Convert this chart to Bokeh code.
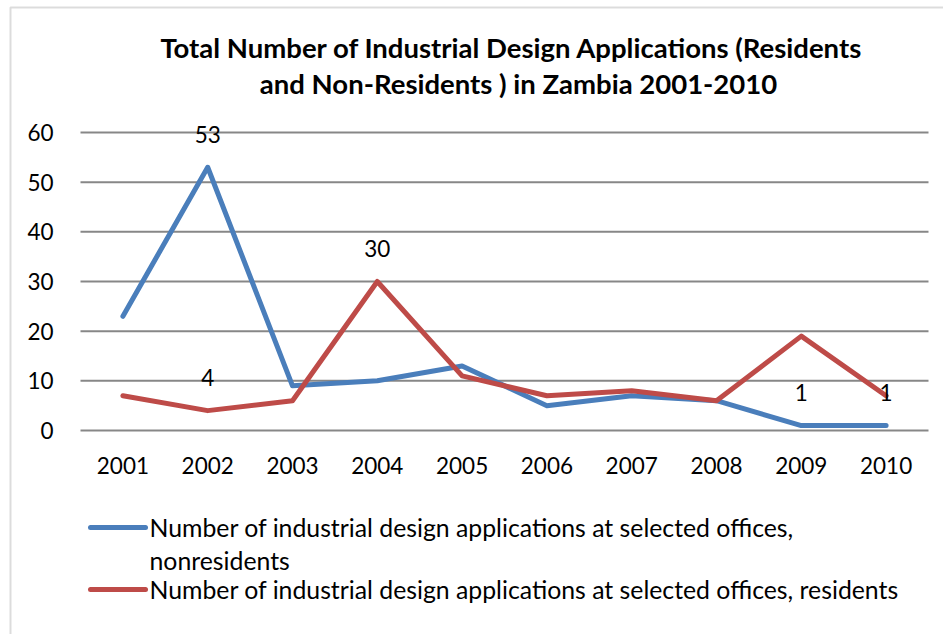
from bokeh.plotting import figure
from bokeh.models import (Range1d, Label, LabelSet, ColumnDataSource,
                          BoxAnnotation, FixedTicker, LinearAxis)
from bokeh.core.properties import value
from bokeh.embed import file_html
from bokeh.resources import INLINE

years = [2001, 2002, 2003, 2004, 2005, 2006, 2007, 2008, 2009, 2010]
nonresidents = [23, 53, 9, 10, 13, 5, 7, 6, 1, 1]
residents = [7, 4, 6, 30, 11, 7, 8, 6, 19, 7]

label_years = [2002, 2002, 2004, 2009, 2010]
label_values = [53, 4, 30, 1, 1]
label_texts = ["53", "4", "30", "1", "1"]

title_lines = ["Total  Number of Industrial Design Applications  (Residents",
               "and Non-Residents ) in Zambia 2001-2010"]
legend_lines = [["Number of industrial design applications at selected offices,", "nonresidents"],
                ["Number of industrial design applications at selected offices, residents"]]
y_ticks = [0, 10, 20, 30, 40, 50, 60]

FONT = "Lato"
BLUE = "#4A7EBB"
RED = "#BE4B48"
GRID = "#878787"

W, H = 943, 634
# plot area in canvas pixels
FL, FR, FT, FB = 80, 928, 132, 430
nx = len(years)
xpp = (FR - FL) / nx
ypp = (FB - FT) / (y_ticks[-1] - y_ticks[0])
x0 = years[0] - 0.5 - FL / xpp
x1 = years[0] - 0.5 + (W - FL) / xpp
y0 = y_ticks[0] - (H - FB) / ypp
y1 = y_ticks[-1] + FT / ypp

p = figure(width=W, height=H, x_range=Range1d(x0, x1), y_range=Range1d(y0, y1),
           output_backend="svg", toolbar_location=None,
           x_axis_location=None, y_axis_location=None,
           min_border=0)
p.extra_x_ranges = {"px": Range1d(0, W)}
p.extra_y_ranges = {"px": Range1d(H, 0)}
p.outline_line_color = None
p.background_fill_color = "white"
p.border_fill_color = "white"
p.xgrid.visible = False
p.ygrid.visible = False

# horizontal gridlines across the plot area
p.segment(x0=[years[0] - 0.5] * len(y_ticks), x1=[years[-1] + 0.5] * len(y_ticks),
          y0=y_ticks, y1=y_ticks, line_color=GRID, line_width=2)

yax = LinearAxis(ticker=FixedTicker(ticks=y_ticks), fixed_location=years[0] - 0.5)
xax = LinearAxis(ticker=FixedTicker(ticks=years), fixed_location=y_ticks[0])
for ax in (xax, yax):
    ax.axis_line_color = None
    ax.major_tick_line_color = None
    ax.minor_tick_line_color = None
    ax.major_tick_out = 0
    ax.major_tick_in = 0
    ax.major_label_text_font = FONT
    ax.major_label_text_font_size = "22.5px"
    ax.major_label_text_color = "#000000"
yax.major_label_standoff = 27
xax.major_label_standoff = 26
p.add_layout(yax, "left")
p.add_layout(xax, "below")

r1 = p.line(years, nonresidents, line_width=5, color=BLUE, line_join="round", line_cap="round")
r2 = p.line(years, residents, line_width=5, color=RED, line_join="round", line_cap="round")

lab_src = ColumnDataSource(dict(x=label_years, y=[v + 6.6 for v in label_values], t=label_texts))
p.add_layout(LabelSet(x="x", y="y", text="t", source=lab_src, text_align="center",
                      text_baseline="middle", text_font=value(FONT), text_font_size="22.5px",
                      text_color="black"))

for txt, yy in zip(title_lines, [47, 83]):
    p.add_layout(Label(x=518, y=yy, text=txt, x_range_name="px", y_range_name="px",
                       text_align="center", text_baseline="middle", text_font=FONT,
                       text_font_size="27.5px", text_font_style="bold", text_color="black"))

p.add_layout(BoxAnnotation(left=10, right=W + 50, top=7, bottom=H + 50,
                           x_range_name="px", y_range_name="px",
                           fill_alpha=0, line_color="#8c8c8c", line_width=2))

# legend (swatch + text lines)
leg_y = [527, 589]
leg_colors = [BLUE, RED]
p.segment(x0=[90, 90], x1=[145, 145], y0=leg_y, y1=leg_y, color=leg_colors,
          line_width=5, line_cap="round", x_range_name="px", y_range_name="px")
line_gap = 33
for ly, lines in zip(leg_y, legend_lines):
    for i, txt in enumerate(lines):
        p.add_layout(Label(x=149, y=ly + i * line_gap, text=txt,
                           x_range_name="px", y_range_name="px",
                           text_align="left", text_baseline="middle", text_font=FONT,
                           text_font_size="24.8px", text_color="black"))

open("out.html", "w").write(file_html(p, INLINE))
